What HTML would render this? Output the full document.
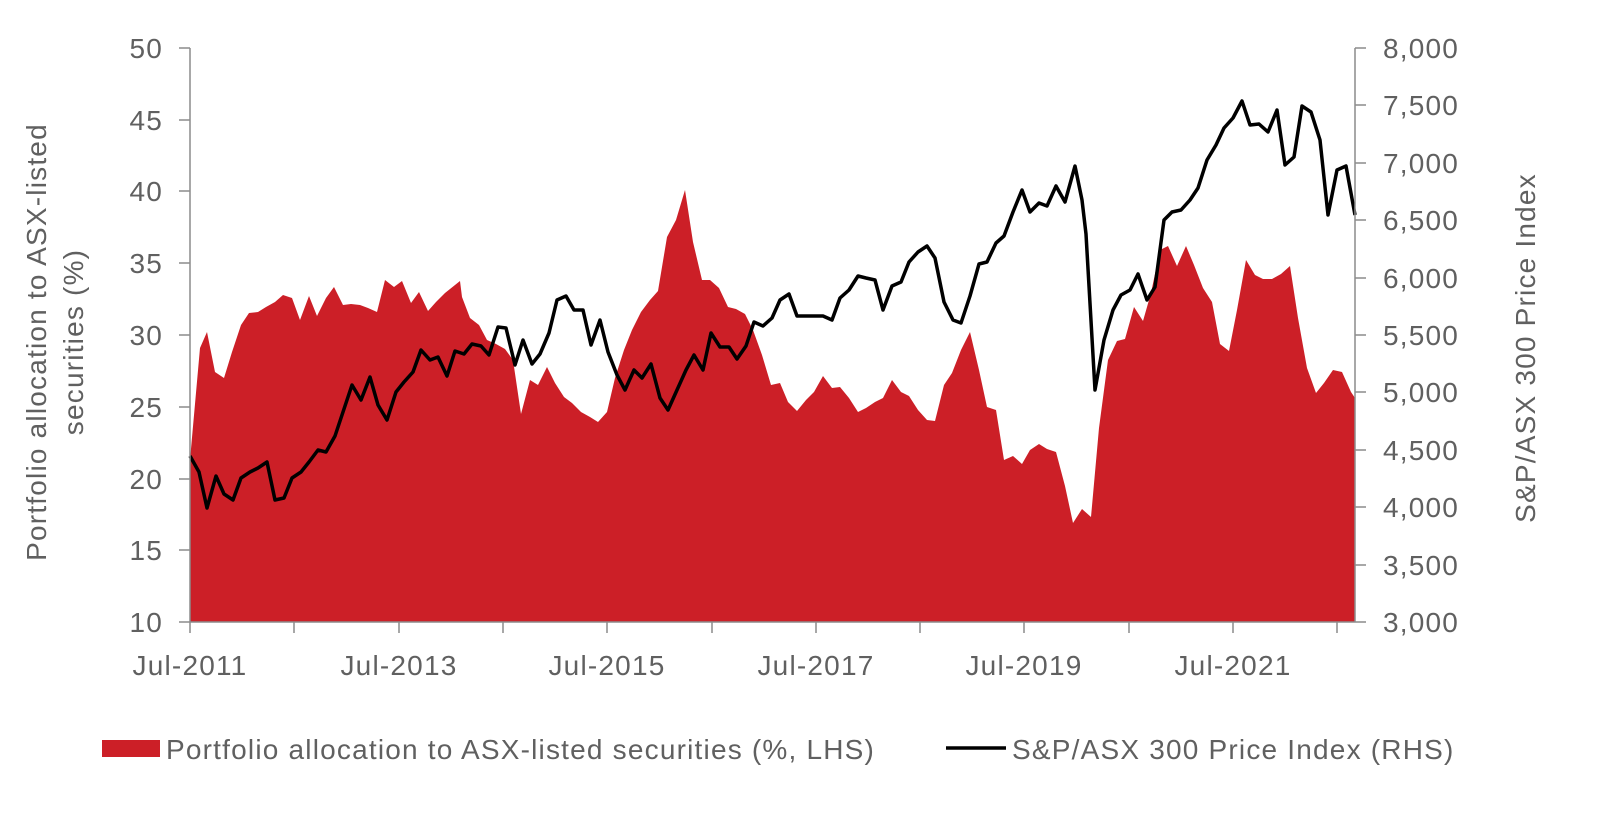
<!DOCTYPE html>
<html><head><meta charset="utf-8"><style>
body{margin:0;background:#fff;}
svg{display:block;font-family:"Liberation Sans",sans-serif;}
</style></head><body>
<svg width="1617" height="818" viewBox="0 0 1617 818">
<polygon fill="#cc1f27" points="190,622 190,460 200,348 207,332 215,372 224,378 232,352 241,325 249,313 258,312 266,307 275,302 283,295 292,298 300,320 309,296 317,316 326,298 334,287 343,305 351,304 360,305 368,308 377,312 385,280 394,287 402,281 411,303 419,292 428,311 436,302 445,293 460,281 462,297 470,318 479,325 487,340 496,344 505,349 513,360 521,414 530,380 538,385 547,367 555,383 564,397 572,403 581,412 590,417 598,422 607,412 615,378 624,350 632,330 641,312 650,300 658,291 667,237 676,220 685,190 693,242 702,280 710,280 719,288 728,307 736,309 745,314 753,330 762,355 771,385 780,383 788,402 797,411 806,400 814,392 823,376 832,388 840,387 849,398 858,412 866,408 875,402 883,398 892,380 901,392 909,396 918,410 927,420 935,421 944,385 952,373 961,350 970,332 979,370 987,407 996,410 1004,460 1013,456 1022,464 1030,450 1039,444 1047,449 1056,452 1065,486 1073,523 1082,509 1091,517 1099,428 1108,360 1117,341 1125,339 1134,307 1143,321 1151,293 1160,250 1168,246 1177,266 1186,246 1194,265 1203,288 1212,302 1220,344 1229,351 1237,310 1246,260 1255,275 1263,279 1272,279 1281,274 1290,266 1298,318 1307,368 1316,393 1324,383 1333,370 1342,372 1351,392 1355,398 1355,622"/>
<polyline fill="none" stroke="#000" stroke-width="3.5" stroke-linejoin="round" points="190,456 199,472 207,508 216,476 224,494 233,500 241,478 250,472 258,468 267,462 275,500 284,498 292,478 301,472 309,462 318,450 326,452 335,436 343,412 352,385 361,400 370,377 378,405 387,420 396,392 404,382 413,372 421,350 430,360 438,357 447,376 455,351 464,354 472,344 481,346 489,355 498,327 506,328 515,365 523,340 532,364 540,354 549,333 557,300 566,296 574,310 583,310 591,345 600,320 608,352 617,375 625,390 634,370 642,378 651,364 660,398 668,410 677,390 686,370 694,355 703,370 711,333 720,347 729,347 737,359 746,346 754,322 763,326 772,318 780,300 789,294 797,316 806,316 815,316 823,316 832,320 840,298 849,290 858,276 866,278 875,280 883,310 892,286 901,282 909,262 918,252 927,246 935,258 944,302 953,320 961,323 970,296 979,264 987,262 996,243 1004,236 1013,212 1022,190 1030,212 1039,203 1047,206 1056,186 1065,202 1075,166 1082,200 1086,234 1095,390 1104,340 1113,310 1121,295 1130,290 1138,274 1147,300 1155,287 1164,220 1172,212 1181,210 1190,200 1198,188 1207,160 1216,145 1224,128 1233,118 1242,101 1250,125 1259,124 1268,132 1277,110 1285,165 1294,157 1302,106 1311,112 1320,140 1328,215 1337,170 1346,166 1355,215"/>
<g stroke="#8c8c8c" stroke-width="1.5" fill="none">
<line x1="190" y1="48" x2="190" y2="622"/>
<line x1="1355" y1="48" x2="1355" y2="622"/>
<line x1="190" y1="622" x2="1355" y2="622"/>
<path d="M179,48h11M179,120h11M179,191h11M179,263h11M179,335h11M179,407h11M179,479h11M179,550h11M179,622h11"/>
<path d="M1355,48h11M1355,105h11M1355,163h11M1355,220h11M1355,278h11M1355,335h11M1355,392h11M1355,450h11M1355,507h11M1355,565h11M1355,622h11"/>
<path d="M190,622v11M294,622v11M399,622v11M503,622v11M607,622v11M712,622v11M816,622v11M920,622v11M1024,622v11M1129,622v11M1233,622v11M1337,622v11"/>
</g>
<g fill="#606060" font-size="28" letter-spacing="1.2">
<g text-anchor="end">
<text x="163" y="58">50</text><text x="163" y="130">45</text><text x="163" y="201">40</text><text x="163" y="273">35</text><text x="163" y="345">30</text><text x="163" y="417">25</text><text x="163" y="489">20</text><text x="163" y="560">15</text><text x="163" y="632">10</text>
</g>
<g text-anchor="start">
<text x="1383" y="58">8,000</text><text x="1383" y="115">7,500</text><text x="1383" y="173">7,000</text><text x="1383" y="230">6,500</text><text x="1383" y="288">6,000</text><text x="1383" y="345">5,500</text><text x="1383" y="402">5,000</text><text x="1383" y="460">4,500</text><text x="1383" y="517">4,000</text><text x="1383" y="575">3,500</text><text x="1383" y="632">3,000</text>
</g>
<g text-anchor="middle">
<text x="190" y="675">Jul-2011</text><text x="399" y="675">Jul-2013</text><text x="607" y="675">Jul-2015</text><text x="816" y="675">Jul-2017</text><text x="1024" y="675">Jul-2019</text><text x="1233" y="675">Jul-2021</text>
</g>
<text transform="translate(46,342) rotate(-90)" text-anchor="middle">Portfolio allocation to ASX-listed</text>
<text transform="translate(83,342) rotate(-90)" text-anchor="middle">securities (%)</text>
<text transform="translate(1535,348) rotate(-90)" text-anchor="middle">S&amp;P/ASX 300 Price Index</text>
<rect x="102" y="740" width="58" height="17" fill="#cc1f27"/>
<text x="166" y="759">Portfolio allocation to ASX-listed securities (%, LHS)</text>
<line x1="946" y1="748" x2="1006" y2="748" stroke="#000" stroke-width="3.5"/>
<text x="1012" y="759">S&amp;P/ASX 300 Price Index (RHS)</text>
</g>
</svg>
</body></html>
